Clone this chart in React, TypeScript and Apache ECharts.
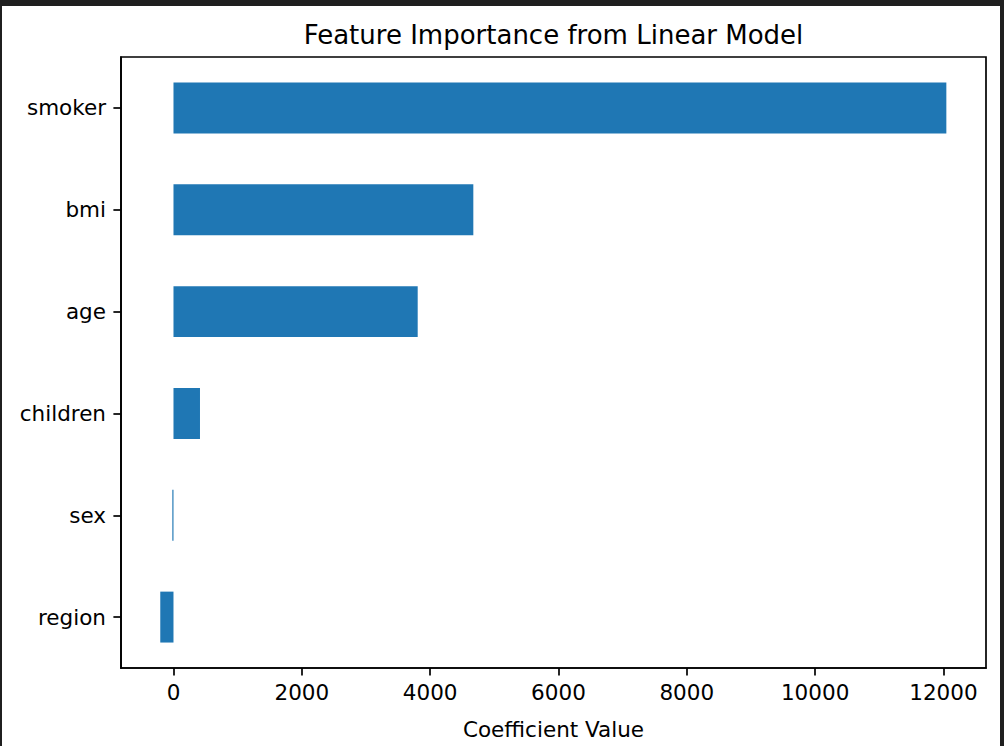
import React, { useEffect, useRef } from "react";
import * as echarts from "echarts";

const categories = ["region", "sex", "children", "age", "bmi", "smoker"];
const coefficients = [-206, -18, 413, 3806, 4673, 12045];
const xTicks = [0, 2000, 4000, 6000, 8000, 10000, 12000];
const xMin = -818;
const xMax = 12663;
const titleText = "Feature Importance from Linear Model";
const xAxisTitle = "Coefficient Value";

export default function App() {
  const ref = useRef<HTMLDivElement>(null);
  useEffect(() => {
    document.body.style.margin = "0";
    const chart = echarts.init(ref.current!, null, { renderer: "svg" });
    const font = "DejaVu Sans";
    chart.setOption({
      animation: false,
      backgroundColor: "#ffffff",
      grid: {
        left: 121,
        right: 18,
        top: 57,
        bottom: 78,
        show: true,
        borderColor: "#000",
        borderWidth: 1.7,
        backgroundColor: "transparent",
      },
      xAxis: {
        type: "value",
        min: xMin,
        max: xMax,
        name: xAxisTitle,
        nameLocation: "middle",
        nameGap: 50,
        nameTextStyle: { fontFamily: font, fontSize: 21.5, color: "#000" },
        axisLine: { show: true, onZero: false, lineStyle: { color: "#000", width: 1.7 } },
        axisTick: {
          show: true,
          length: 7.6,
          lineStyle: { color: "#000", width: 1.7 },
          customValues: xTicks,
        },
        axisLabel: {
          margin: 13,
          fontFamily: font,
          fontSize: 21.5,
          color: "#000",
          customValues: xTicks,
          formatter: (v: number) => String(v),
        },
        splitLine: { show: false },
      },
      yAxis: {
        type: "category",
        data: categories,
        axisLine: { show: true, onZero: false, lineStyle: { color: "#000", width: 1.7 } },
        axisTick: { show: true, alignWithLabel: true, length: 7.6, lineStyle: { color: "#000", width: 1.7 } },
        axisLabel: { margin: 15, fontFamily: font, fontSize: 21.5, color: "#000" },
        splitLine: { show: false },
      },
      series: [
        {
          type: "bar",
          data: coefficients,
          barWidth: "50%",
          itemStyle: { color: "#1f77b4" },
        },
      ],
      graphic: [
        {
          type: "text",
          x: 553.5,
          y: 35,
          style: {
            text: titleText,
            fontFamily: font,
            fontSize: 26,
            fill: "#000",
            align: "center",
            verticalAlign: "middle",
          },
        },
        { type: "rect", shape: { x: 0, y: 0, width: 1004, height: 6 }, style: { fill: "#1f1f1f" } },
        { type: "rect", shape: { x: 0, y: 0, width: 2, height: 746 }, style: { fill: "#1f1f1f" } },
        { type: "rect", shape: { x: 1000, y: 0, width: 4, height: 746 }, style: { fill: "#1f1f1f" } },
      ],
    });
    return () => chart.dispose();
  }, []);
  return <div ref={ref} style={{ width: 1004, height: 746 }} />;
}
